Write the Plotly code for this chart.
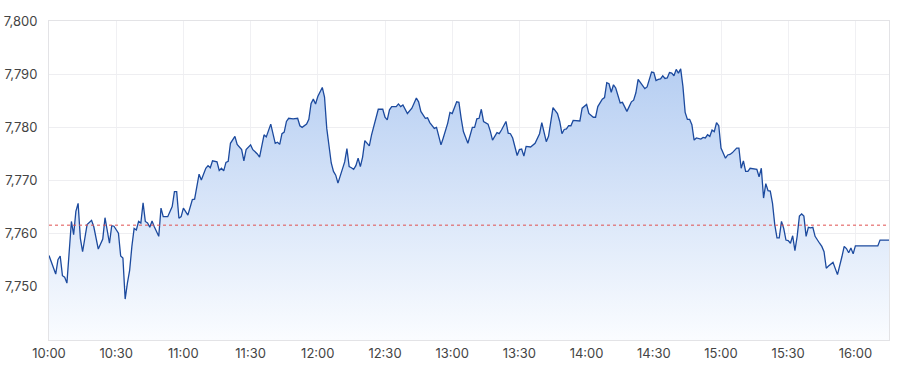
import plotly.graph_objects as go

times = ["10:00","10:02","10:03","10:04","10:05","10:06","10:07","10:08","10:10","10:11","10:12","10:13","10:14","10:15","10:17","10:19","10:20","10:22","10:24","10:25","10:27","10:28","10:29","10:31","10:32","10:33","10:34","10:35","10:36","10:37","10:38","10:39","10:40","10:41","10:42","10:43","10:44","10:45","10:46","10:47","10:49","10:50","10:51","10:53","10:55","10:56","10:57","10:58","10:59",
"11:00","11:02","11:04","11:05","11:07","11:08","11:10","11:11","11:12","11:13","11:15","11:16","11:17","11:18","11:19","11:20","11:21","11:23","11:24","11:26","11:27","11:28","11:30","11:31","11:33","11:34","11:36","11:37","11:39","11:41","11:42","11:43","11:44","11:45","11:46","11:47","11:49","11:51","11:52","11:53","11:55","11:56","11:57","11:58","11:59",
"12:00","12:02","12:03","12:04","12:06","12:07","12:08","12:09","12:10","12:12","12:13","12:14","12:15","12:16","12:17","12:18","12:19","12:20","12:21","12:23","12:24","12:26","12:27","12:29","12:30","12:31","12:32","12:33","12:35","12:36","12:37","12:38","12:39","12:40","12:42","12:44","12:45","12:46","12:48","12:49","12:50","12:52","12:53","12:55","12:56","12:58","12:59",
"13:00","13:02","13:03","13:04","13:05","13:07","13:09","13:10","13:11","13:12","13:13","13:14","13:16","13:17","13:18","13:20","13:21","13:22","13:24","13:25","13:26","13:27","13:29","13:30","13:31","13:32","13:33","13:35","13:37","13:39","13:40","13:42","13:43","13:45","13:47","13:48","13:49","13:50","13:51","13:52","13:53","13:54","13:55","13:57","13:58",
"14:00","14:01","14:03","14:04","14:05","14:07","14:08","14:09","14:10","14:11","14:12","14:13","14:15","14:16","14:17","14:18","14:19","14:20","14:21","14:22","14:23","14:24","14:26","14:27","14:28","14:29","14:30","14:31","14:32","14:33","14:34","14:35","14:36","14:37","14:38","14:39","14:40","14:41","14:42","14:43","14:44","14:45","14:46","14:47","14:48","14:49","14:51","14:52","14:53","14:54","14:55","14:56","14:57","14:58","14:59",
"15:00","15:02","15:03","15:04","15:05","15:07","15:08","15:09","15:10","15:11","15:12","15:13","15:15","15:16","15:17","15:18","15:19","15:20","15:21","15:22","15:23","15:24","15:25","15:26","15:27","15:28","15:29","15:30","15:31","15:32","15:33","15:34","15:35","15:36","15:37","15:38","15:39","15:40","15:41","15:42","15:44","15:45","15:46","15:47","15:48","15:50","15:52","15:53","15:54","15:55","15:56","15:57","15:58","15:59",
"16:00","16:10","16:11","16:15"]

values = [7755.9,7753.5,7752.4,7755.1,7755.8,7752.1,7751.8,7750.7,7762.3,7759.8,7764.2,7765.7,7759.1,7756.6,7761.7,7762.5,7761.3,7757.1,7759.0,7763.0,7758.2,7761.5,7761.4,7760.1,7755.8,7755.4,7747.7,7750.7,7753.1,7757.6,7761.0,7760.7,7762.3,7762.0,7765.8,7762.3,7762.0,7761.2,7762.4,7761.3,7759.5,7764.8,7763.2,7763.2,7765.1,7767.9,7767.9,7762.9,7763.2,
7764.8,7763.5,7766.4,7766.5,7771.2,7770.1,7772.3,7772.8,7772.4,7773.7,7773.5,7771.9,7772.3,7771.8,7773.4,7773.6,7777.0,7778.3,7776.8,7775.8,7773.7,7775.8,7776.7,7775.8,7775.0,7774.4,7778.6,7778.2,7780.6,7777.0,7777.2,7776.8,7778.8,7779.1,7781.1,7781.7,7781.6,7781.7,7780.3,7780.0,7780.6,7781.5,7784.5,7785.3,7784.4,
7785.8,7787.5,7785.7,7779.8,7773.3,7771.7,7771.0,7769.5,7770.9,7773.5,7776.0,7772.6,7772.4,7772.1,7772.8,7774.2,7772.6,7774.4,7777.5,7776.5,7778.6,7781.7,7783.4,7783.4,7781.9,7781.4,7783.3,7783.9,7783.9,7784.4,7783.9,7784.2,7783.5,7782.6,7783.6,7785.5,7784.8,7783.0,7781.7,7781.8,7780.9,7779.8,7780.0,7776.7,7778.0,7780.8,7782.8,
7782.6,7784.8,7784.7,7781.7,7779.2,7777.0,7780.0,7780.0,7781.6,7781.7,7783.4,7781.1,7780.6,7779.3,7777.6,7779.0,7778.8,7779.5,7781.1,7778.9,7778.8,7778.0,7774.7,7775.8,7775.9,7774.6,7776.4,7776.3,7777.0,7778.8,7780.9,7777.3,7778.3,7783.7,7782.6,7781.1,7778.8,7779.6,7779.7,7780.3,7780.3,7781.3,7781.3,7781.2,7783.6,
7784.3,7782.6,7781.9,7781.9,7783.9,7785.3,7785.6,7788.4,7788.2,7786.6,7788.0,7787.4,7784.6,7784.7,7783.9,7783.0,7783.9,7784.8,7785.1,7786.5,7789.0,7788.4,7787.3,7787.6,7788.9,7790.4,7790.3,7788.8,7789.0,7789.1,7789.7,7789.2,7789.3,7790.3,7790.2,7789.7,7790.9,7790.2,7791.0,7787.7,7782.8,7781.5,7781.5,7780.5,7777.6,7778.0,7777.8,7778.1,7778.0,7778.6,7778.3,7779.5,7779.2,7780.9,7780.3,
7776.1,7774.2,7774.8,7774.9,7775.2,7776.1,7776.1,7772.3,7773.7,7771.7,7771.7,7772.3,7772.2,7772.1,7770.7,7772.3,7766.7,7769.4,7768.1,7768.0,7765.7,7761.7,7759.2,7759.2,7762.3,7761.0,7758.8,7758.7,7758.2,7759.6,7756.8,7759.5,7763.3,7763.7,7763.3,7759.5,7761.2,7761.1,7761.2,7759.5,7758.2,7757.6,7756.6,7753.5,7753.9,7754.6,7752.3,7753.8,7755.7,7757.6,7757.2,7756.4,7757.3,7756.2,
7757.7,7757.7,7758.8,7758.8]

reference_level = 7761.6
y_ticks = [7750, 7760, 7770, 7780, 7790, 7800]
x_ticks = ["10:00","10:30","11:00","11:30","12:00","12:30","13:00","13:30","14:00","14:30","15:00","15:30","16:00"]

DAY = "2024-01-02 "
xs = [DAY + t for t in times]

fig = go.Figure()
fig.add_trace(go.Scatter(
    x=xs, y=values, mode="lines",
    line=dict(color="#1c4a9e", width=1.3),
    fill="tozeroy",
    fillgradient=dict(type="vertical", start=7740, stop=7791,
                      colorscale=[[0, "rgba(250,252,255,1)"], [1, "rgba(182,206,242,1)"]]),
    hoverinfo="skip", showlegend=False,
))
fig.add_trace(go.Scatter(
    x=[DAY + "10:00", DAY + "16:15"], y=[reference_level, reference_level],
    mode="lines", line=dict(color="#e05050", width=1, dash="dot"),
    hoverinfo="skip", showlegend=False,
))

fig.update_layout(
    width=900, height=375,
    margin=dict(l=49, r=11, t=21, b=35),
    paper_bgcolor="white", plot_bgcolor="white",
    font=dict(family="Inter, Roboto, sans-serif", size=13, color="#444"),
)
fig.update_xaxes(
    type="date", range=[DAY + "10:00", DAY + "16:15"],
    tickvals=[DAY + t for t in x_ticks], ticktext=x_ticks,
    showgrid=True, gridcolor="#f0f0f3", gridwidth=1,
    showline=True, linecolor="#e3e3e6", linewidth=1, mirror=True,
    ticks="", ticklabelstandoff=1, zeroline=False, automargin=False,
)
fig.update_yaxes(
    range=[7740, 7800], tickvals=y_ticks, ticktext=[f"{v:,}" for v in y_ticks],
    showgrid=True, gridcolor="#eeeef1", gridwidth=1,
    showline=True, linecolor="#e3e3e6", linewidth=1, mirror=True,
    ticks="", ticklabelstandoff=8, zeroline=False, automargin=False,
)

fig.write_html("out.html")
